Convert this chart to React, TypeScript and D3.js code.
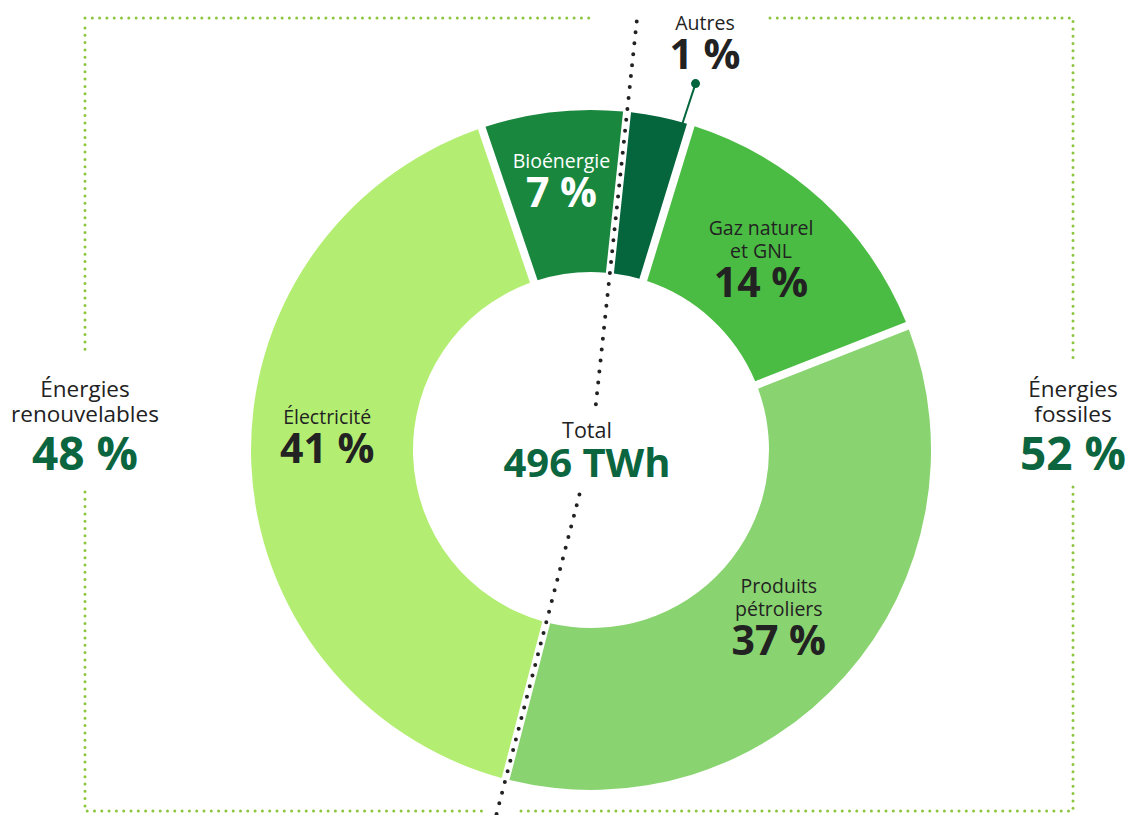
import React from 'react';
import * as d3 from 'd3';

// slice order is clockwise from the electricity/bioenergy gap
const categories = ['Bioénergie', 'Autres', 'Gaz naturel et GNL', 'Produits pétroliers', 'Électricité'];
const labelLines = [['Bioénergie'], ['Autres'], ['Gaz naturel', 'et GNL'], ['Produits', 'pétroliers'], ['Électricité']];
// drawn share of the ring (the small "Autres" slice is widened in the original)
const shares = [6.9, 3.05, 14.3, 35.0, 40.75];
const pctLabels = ['7 %', '1 %', '14 %', '37 %', '41 %'];
const colors = ['#1a873e', '#05663e', '#4bbc43', '#89d470', '#b3ee73'];
const textColors = ['#ffffff', '#222222', '#222222', '#222222', '#222222'];

const groupNames = [['Énergies', 'renouvelables'], ['Énergies', 'fossiles']];
const groupPcts = ['48 %', '52 %'];
const totalLabel = 'Total';
const totalValue = '496 TWh';

const FONT = '"Open Sans", "Noto Sans", sans-serif';
const DARK = '#222222';
const GREEN = '#0b6640';
const LIME = '#8cc63f';

const W = 1128;
const H = 815;
const CX = 591;
const CY = 450;
const R_OUT = 340;
const R_IN = 178;
const START = (-18.75 * Math.PI) / 180;

// small per-slice nudges of the label block (x, y)
const nudges: [number, number][] = [[-1, -11], [0, 0], [-6, 0], [-6, -4], [-5, -22]];

export default function App() {
  const pie = d3.pie<number>().sort(null).value(d => d)
    .startAngle(START).endAngle(START + 2 * Math.PI);
  const arcs = pie(shares);
  const arc = d3.arc<d3.PieArcDatum<number>>()
    .innerRadius(R_IN).outerRadius(R_OUT)
    .padAngle(8 / R_OUT).padRadius(R_OUT);
  const mid = d3.arc<d3.PieArcDatum<number>>().innerRadius((R_IN + R_OUT) / 2).outerRadius((R_IN + R_OUT) / 2);

  // "Autres" leader
  const autres = arcs[1];
  const la = autres.endAngle - 0.025;
  const p0 = [CX + (R_OUT - 2) * Math.sin(la), CY - (R_OUT - 2) * Math.cos(la)];
  const p1 = [CX + 381 * Math.sin(la + 0.005), CY - 381 * Math.cos(la + 0.005)];

  // dividing dotted line: follows the renewables/fossils gaps through the centre
  const aTop = arcs[0].endAngle;
  const aBot = arcs[3].endAngle;
  const rs = 46;
  const topY = 17;
  const botY = 814;
  const rTop = (CY - topY) / Math.cos(aTop);
  const rBot = (botY - CY) / -Math.cos(aBot);
  const pt = (a: number, r: number) => `${CX + r * Math.sin(a)},${CY - r * Math.cos(a)}`;
  const divPath = `M${pt(aTop, rs)}L${pt(aTop, rTop)} M${pt(aBot, rs)}L${pt(aBot, rBot)}`;

  const gx = [85, 1073];
  const gTop = 18;
  const gBot = 811;

  const greenDots = { stroke: LIME, strokeWidth: 3, strokeDasharray: '0 7.3', strokeLinecap: 'round' as const, fill: 'none' };

  return (
    <svg width={W} height={H} style={{ position: 'absolute', left: 0, top: 0, fontFamily: FONT }}>
      <rect width={W} height={H} fill="#fff" />

      {/* bracket for the two groups */}
      <path d={`M${gx[0]},${gTop + 10}V355 M${gx[0]},492V${gBot} H482`} {...greenDots} />
      <path d={`M${gx[0]},${gTop}H590`} {...greenDots} />
      <path d={`M770,${gTop}H${gx[1]}V360 M${gx[1]},487V${gBot} H520`} {...greenDots} />

      <g transform={`translate(${CX},${CY})`}>
        {arcs.map((a, i) => (
          <path key={categories[i]} d={arc(a) ?? ''} fill={colors[i]} />
        ))}
      </g>

      <path d={divPath} fill="none" stroke={DARK} strokeWidth={4} strokeDasharray="0 11" strokeLinecap="round" />

      <g transform={`translate(${CX},${CY})`}>
        {arcs.map((a, i) => {
          if (i === 1) return null;
          const [mx, my] = mid.centroid(a);
          const lines = labelLines[i];
          const h = (lines.length - 1) * 23 + 38 + 13;
          const pctY = my + nudges[i][1] + h / 2;
          const x = mx + nudges[i][0];
          return (
            <g key={`l${i}`} fill={textColors[i]} textAnchor="middle">
              {lines.map((t, j) => (
                <text key={t} x={x} y={pctY - 39 - (lines.length - 1 - j) * 23} fontSize={19.5}>{t}</text>
              ))}
              <text x={x} y={pctY} fontSize={41} fontWeight={700}>{pctLabels[i]}</text>
            </g>
          );
        })}
      </g>

      {/* Autres callout */}
      <line x1={p0[0]} y1={p0[1]} x2={p1[0]} y2={p1[1]} stroke={colors[1]} strokeWidth={2} />
      <circle cx={p1[0]} cy={p1[1]} r={4.5} fill={colors[1]} />
      <text x={705} y={30} fontSize={19.5} fill={DARK} textAnchor="middle">{labelLines[1][0]}</text>
      <text x={705} y={69} fontSize={41} fontWeight={700} fill={DARK} textAnchor="middle">{pctLabels[1]}</text>

      {/* centre */}
      <text x={587} y={438} fontSize={21.5} fill={DARK} textAnchor="middle">{totalLabel}</text>
      <text x={587} y={477} fontSize={40} fontWeight={700} fill={GREEN} textAnchor="middle">{totalValue}</text>

      {/* group totals */}
      {gx.map((x, k) => (
        <g key={`g${k}`} textAnchor="middle">
          <text x={x} y={397} fontSize={22.5} fill={DARK}>{groupNames[k][0]}</text>
          <text x={x} y={422} fontSize={22.5} fill={DARK}>{groupNames[k][1]}</text>
          <text x={x} y={470} fontSize={46} fontWeight={700} fill={GREEN}>{groupPcts[k]}</text>
        </g>
      ))}
    </svg>
  );
}
